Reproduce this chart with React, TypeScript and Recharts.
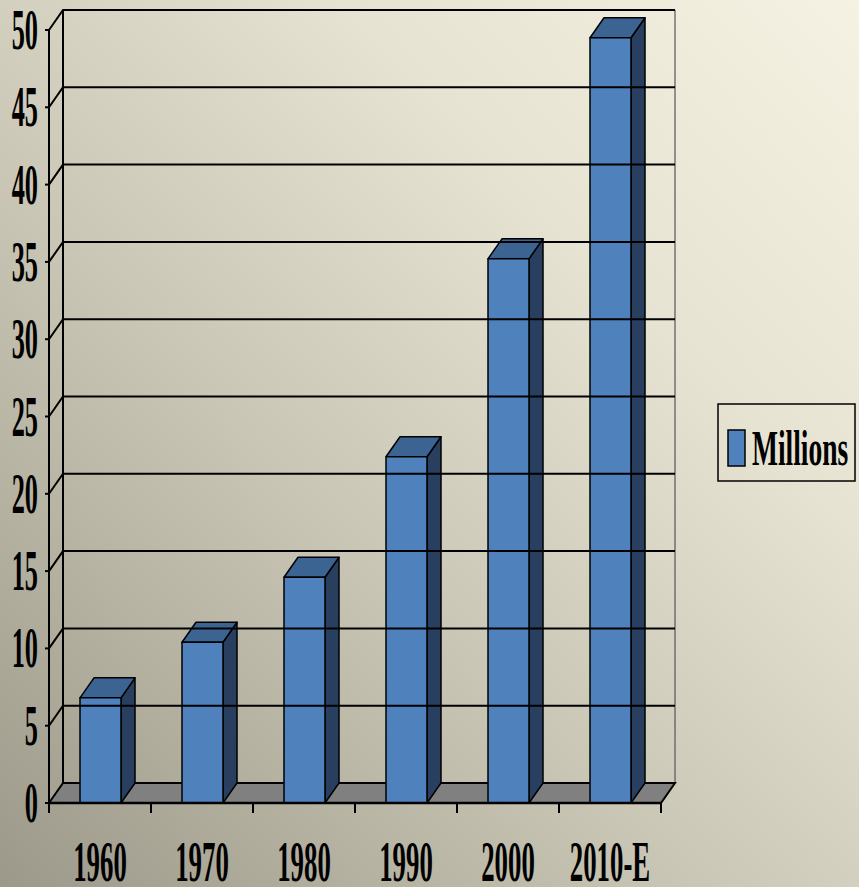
import React from 'react'
import { BarChart, Bar, XAxis, YAxis, ReferenceLine } from 'recharts'

const categories = ['1960', '1970', '1980', '1990', '2000', '2010-E']
const millions = [6.8, 10.4, 14.6, 22.4, 35.2, 49.5]
const yTicks = [0, 5, 10, 15, 20, 25, 30, 35, 40, 45, 50]
const seriesName = 'Millions'

const data = categories.map((c, i) => ({ year: c, value: millions[i] }))

// depth of the fake 3d
const DX = 14
const DY = -20
const TOP = 30
const BOTTOM = 803
const LEFT = 49
const RIGHT = 661
const FONT = '"Liberation Serif", "Times New Roman", serif'

// floor + wall edges, painted under the first bar so every bar sits on top
const Floor = () => {
  const step = (RIGHT - LEFT) / categories.length
  const ticks = Array.from({ length: categories.length + 1 }, (_, i) => LEFT + i * step)
  return (
    <g>
      <line x1={LEFT + DX} y1={TOP + DY} x2={LEFT + DX} y2={BOTTOM + DY} stroke="#000" strokeWidth={2} />
      <line x1={RIGHT + DX} y1={TOP + DY} x2={RIGHT + DX} y2={BOTTOM + DY} stroke="#555" strokeWidth={1.2} />
      <polygon
        points={`${LEFT},${BOTTOM} ${RIGHT},${BOTTOM} ${RIGHT + DX},${BOTTOM + DY} ${LEFT + DX},${BOTTOM + DY}`}
        fill="#808080"
        stroke="#000"
        strokeWidth={2}
      />
      {ticks.map((t, i) => (
        <line key={i} x1={t} y1={BOTTOM} x2={t} y2={BOTTOM + 10} stroke="#000" strokeWidth={2} />
      ))}
    </g>
  )
}

const Bar3D = (p: any) => {
  const { x, y, width, height, index } = p
  if (height == null || height <= 0) return null
  const r = x + width
  return (
    <g>
      {index === 0 && <Floor />}
      <g stroke="#000" strokeWidth={1.5} strokeLinejoin="round">
        <polygon points={`${r},${y} ${r + DX},${y + DY} ${r + DX},${y + height + DY} ${r},${y + height}`} fill="#283f5f" />
        <polygon points={`${x},${y} ${x + DX},${y + DY} ${r + DX},${y + DY} ${r},${y}`} fill="#3c6493" />
        <rect x={x} y={y} width={width} height={height} fill="#4f81bd" />
      </g>
    </g>
  )
}

// diagonal from front axis to back wall, then along the wall
const gridShape = (p: any) => {
  const { x1, y1, x2 } = p
  return (
    <path d={`M${x1},${y1} L${x1 + DX},${y1 + DY} L${x2 + DX},${y1 + DY}`} fill="none" stroke="#000" strokeWidth={2} />
  )
}

const YTick = (p: any) => {
  const { y, payload } = p
  return (
    <text
      transform={`translate(38,${y}) scale(0.47,1)`}
      textAnchor="end"
      dy="0.34em"
      fontFamily={FONT}
      fontWeight="bold"
      fontSize={56}
      fill="#000"
    >
      {payload.value}
    </text>
  )
}

const XTick = (p: any) => {
  const { x, payload } = p
  return (
    <text
      transform={`translate(${x},881) scale(0.47,1)`}
      textAnchor="middle"
      fontFamily={FONT}
      fontWeight="bold"
      fontSize={57}
      fill="#000"
    >
      {payload.value}
    </text>
  )
}

export default function App() {
  return (
    <div
      style={{
        position: 'fixed',
        left: 0,
        top: 0,
        width: 859,
        height: 887,
        background: 'linear-gradient(to top right, #9d998a 0%, #c9c6b5 40%, #e6e3d2 70%, #f5f2e3 100%)',
        overflow: 'hidden',
      }}
    >
      <BarChart
        width={859}
        height={887}
        data={data}
        margin={{ top: TOP, right: 859 - RIGHT, bottom: 0, left: 0 }}
        barSize={41}
      >
        <XAxis
          dataKey="year"
          height={887 - BOTTOM}
          axisLine={{ stroke: '#000', strokeWidth: 2.5 }}
          tickLine={false}
          tick={<XTick />}
          interval={0}
        />
        <YAxis
          width={LEFT}
          domain={[0, 50]}
          ticks={yTicks}
          interval={0}
          axisLine={{ stroke: '#000', strokeWidth: 2 }}
          tickLine={{ stroke: '#000', strokeWidth: 2 }}
          tickSize={4}
          tick={<YTick />}
        />
        {yTicks.slice(1).map(v => (
          <ReferenceLine key={v} y={v} shape={gridShape} />
        ))}
        <Bar dataKey="value" name={seriesName} shape={<Bar3D />} isAnimationActive={false} />
      </BarChart>
      <svg style={{ position: 'absolute', left: 0, top: 0 }} width={859} height={887} pointerEvents="none">
        <rect x={718} y={404} width={137} height={77} fill="none" stroke="#000" strokeWidth={1.5} />
        <rect x={728} y={430} width={17} height={36} fill="#4f81bd" stroke="#000" strokeWidth={1.5} />
        <text
          transform="translate(752,465) scale(0.55,1)"
          fontFamily={FONT}
          fontWeight="bold"
          fontSize={50}
          fill="#000"
        >
          {seriesName}
        </text>
      </svg>
    </div>
  )
}
